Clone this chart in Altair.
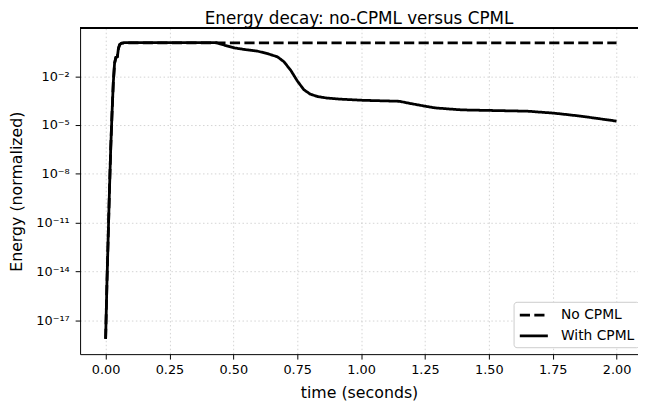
import altair as alt
import pandas as pd

# --- data (time in seconds, energy as log10 exponent) ---
t_cpml = [0.000, 0.005, 0.010, 0.015, 0.020, 0.025, 0.030, 0.035, 0.040, 0.046,
          0.050, 0.055, 0.062, 0.073, 0.10, 0.20, 0.30, 0.40, 0.434, 0.467,
          0.505, 0.55, 0.595, 0.634, 0.673, 0.698, 0.724, 0.750, 0.776, 0.801,
          0.83, 0.866, 0.92, 1.008, 1.08, 1.149, 1.201, 1.25, 1.291, 1.394,
          1.523, 1.652, 1.755, 1.858, 2.0]
e_cpml = [-18.15, -14.8, -11.9, -9.0, -6.4, -4.3, -2.4, -1.2, -0.85, -0.8,
          -0.3, -0.05, 0.03, 0.06, 0.06, 0.06, 0.06, 0.06, 0.06, -0.10,
          -0.26, -0.37, -0.46, -0.61, -0.81, -1.11, -1.62, -2.28, -2.83, -3.1,
          -3.25, -3.34, -3.41, -3.48, -3.51, -3.54, -3.7, -3.84, -3.95, -4.07,
          -4.11, -4.15, -4.27, -4.45, -4.76]

t_nocpml = [0.000, 0.005, 0.010, 0.015, 0.020, 0.025, 0.030, 0.035, 0.040, 0.046,
            0.050, 0.055, 0.062, 0.073, 0.50, 1.00, 1.50, 2.00]
e_nocpml = [-18.15, -14.8, -11.9, -9.0, -6.4, -4.3, -2.4, -1.2, -0.85, -0.8,
            -0.3, -0.05, 0.03, 0.05, 0.05, 0.05, 0.05, 0.05]

series = ["No CPML", "With CPML"]
y_tick_exps = [-17, -14, -11, -8, -5, -2]
y_tick_labels = ["10⁻¹⁷", "10⁻¹⁴", "10⁻¹¹", "10⁻⁸", "10⁻⁵", "10⁻²"]
x_ticks = [0.0, 0.25, 0.5, 0.75, 1.0, 1.25, 1.5, 1.75, 2.0]

rows = []
for t, e in zip(t_nocpml, e_nocpml):
    rows.append({"time": t, "energy": 10 ** e, "series": series[0], "ord": 0})
for t, e in zip(t_cpml, e_cpml):
    rows.append({"time": t, "energy": 10 ** e, "series": series[1], "ord": 1})
df = pd.DataFrame(rows)

# label expression for log ticks
label_expr = "''"
for ex, lab in zip(reversed(y_tick_exps), reversed(y_tick_labels)):
    label_expr = f"abs(log(datum.value)/LN10 - ({ex})) < 0.1 ? '{lab}' : " + label_expr

W, H = 565, 330
FONT = "DejaVu Sans"
LW = 2.8

lines = alt.Chart(df).mark_line(color="black", strokeWidth=LW, clip=True).encode(
    x=alt.X("time:Q",
            scale=alt.Scale(domain=[-0.1, 2.084], nice=False, zero=False),
            axis=alt.Axis(values=x_ticks, format=".2f", title="time (seconds)",
                          grid=True, labelPadding=5, titlePadding=8)),
    y=alt.Y("energy:Q",
            scale=alt.Scale(type="log", domain=[10 ** -19.09, 10 ** 0.95], nice=False),
            axis=alt.Axis(values=[10.0 ** e for e in y_tick_exps],
                          labelExpr=label_expr, title="Energy (normalized)",
                          grid=True, labelPadding=6, titlePadding=11)),
    strokeDash=alt.StrokeDash(
        "series:N",
        scale=alt.Scale(domain=series, range=[[10.3, 4.4], [1, 0]]),
        legend=alt.Legend(title=None, orient="none", legendX=439, legendY=277,
                          symbolType="M-0.9,0H2.65", symbolStrokeWidth=LW,
                          symbolStrokeColor="black", symbolFillColor="transparent",
                          symbolSize=256,
                          labelFontSize=14, labelFont=FONT, labelColor="black",
                          labelOffset=25, rowPadding=4, padding=4,
                          strokeColor="#cccccc", fillColor="white",
                          cornerRadius=3)),
    order=alt.Order("ord:Q"),
    detail="series:N",
)

top_rule = alt.Chart(df).mark_rule(color="black", strokeWidth=1).encode(
    x=alt.value(0), x2=alt.value(W), y=alt.value(0)
)

chart = alt.layer(lines, top_rule).properties(
    width=W, height=H,
    title=alt.Title("Energy decay: no-CPML versus CPML", fontSize=17, font=FONT,
                    fontWeight="normal", color="black", offset=0),
    autosize=alt.AutoSizeParams(type="none"),
    padding={"left": 73, "top": 18, "right": 0, "bottom": 50},
).configure_view(stroke=None).configure_axis(
    labelFont=FONT, titleFont=FONT, labelFontSize=13, titleFontSize=16,
    labelColor="black", titleColor="black", titleFontWeight="normal",
    domainColor="black", domainWidth=1, tickColor="black", tickSize=5,
    tickWidth=1, gridColor="#c8c8c8", gridDash=[1.5, 2.5], gridWidth=0.8,
)

chart.save("out.html", embed_options={"renderer": "svg", "actions": False})
